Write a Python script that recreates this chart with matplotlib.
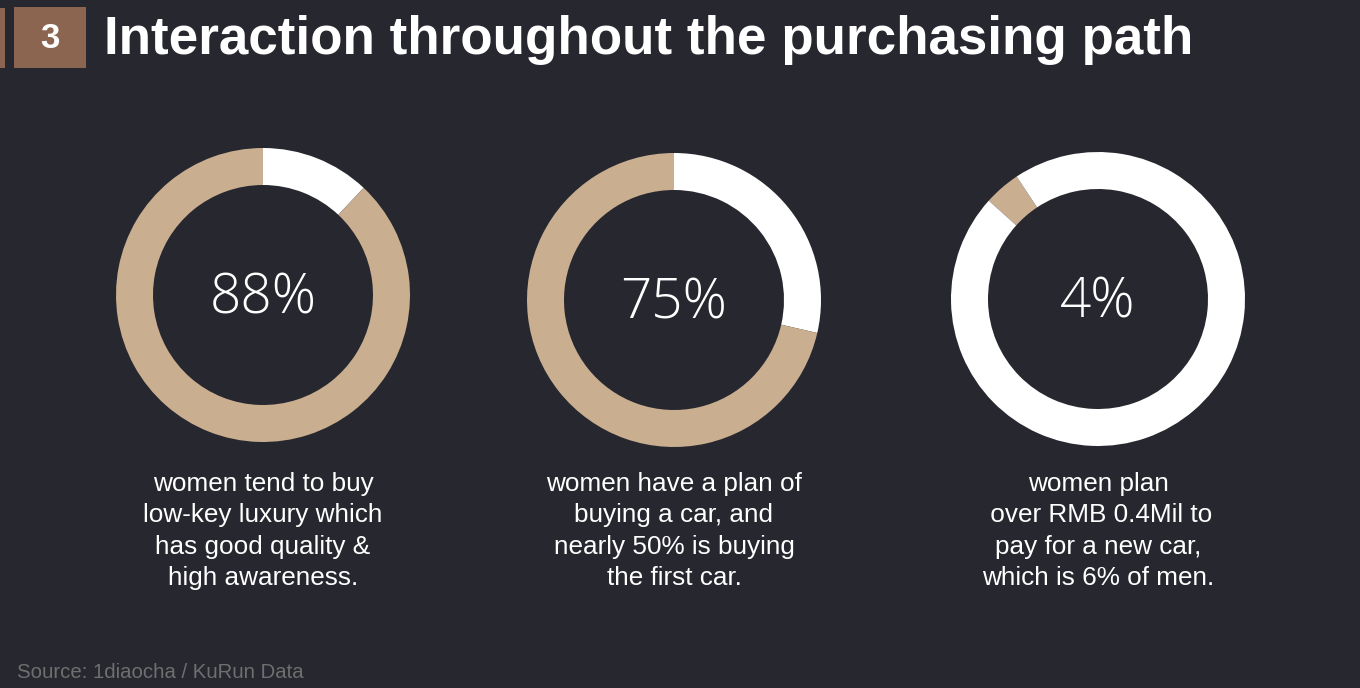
import matplotlib
matplotlib.use("Agg")
import matplotlib.pyplot as plt
from matplotlib.patches import Rectangle

# ---- data ----
title = "Interaction throughout the purchasing path"
section_number = "3"
percent_labels = ["88%", "75%", "4%"]
highlight_share = [88, 71.4, 4]        # tan arc share as drawn
rest_share = [12, 28.6, 96]            # white arc share as drawn
captions = [
    "women tend to buy\nlow-key luxury which\nhas good quality &\nhigh awareness.",
    "women have a plan of\nbuying a car, and\nnearly 50% is buying\nthe first car.",
    "women plan\n over RMB 0.4Mil to\npay for a new car,\nwhich is 6% of men.",
]
source = "Source: 1diaocha / KuRun Data"

# ---- style ----
BG = "#27272f"
TAN = "#c9ae90"
WHITE = "#ffffff"
BROWN = "#8c6550"
W, H = 1360, 688

fig = plt.figure(figsize=(W / 100, H / 100), dpi=100, facecolor=BG)

# header decorations
deco = fig.add_axes([0, 0, 1, 1], facecolor="none")
deco.set_xlim(0, W)
deco.set_ylim(H, 0)
deco.axis("off")
deco.add_patch(Rectangle((0, 8), 5, 60, color=BROWN, lw=0))
deco.add_patch(Rectangle((14, 7), 72, 61, color=BROWN, lw=0))
deco.text(50, 39, section_number, color="white", fontsize=25, fontweight="bold",
          family="Liberation Sans", ha="center", va="center")
deco.text(104, 40, title, color="white", fontsize=38.2, fontweight="bold",
          family="Liberation Sans", ha="left", va="center")
deco.text(17, 672, source, color="#6f6f6f", fontsize=14.7,
          family="Liberation Sans", ha="left", va="center")

centers = [(263, 295), (674, 300), (1098, 299)]
start_angles = [90, 90, 138]
orders = [("rest", "hl"), ("rest", "hl"), ("hl", "rest")]
R_PX = 147
BOX = 320

for i, (cx, cy) in enumerate(centers):
    ax = fig.add_axes([(cx - BOX / 2) / W, 1 - (cy + BOX / 2) / H, BOX / W, BOX / H])
    ax.set_facecolor("none")
    vals = {"hl": highlight_share[i], "rest": rest_share[i]}
    cols = {"hl": TAN, "rest": WHITE}
    o = orders[i]
    ax.pie([vals[k] for k in o], colors=[cols[k] for k in o], startangle=start_angles[i],
           counterclock=False, radius=1.0,
           wedgeprops=dict(width=37 / R_PX, linewidth=0))
    lim = (BOX / 2) / R_PX
    ax.set_xlim(-lim, lim)
    ax.set_ylim(-lim, lim)
    ax.set_aspect("equal")
    ax.axis("off")
    deco.text(cx, cy + 4, percent_labels[i], color="white", fontsize=39.5,
              family="Open Sans", fontweight="light", ha="center", va="center")
    deco.text(cx, 531, captions[i], color="white", fontsize=18.8,
              family="Liberation Sans", ha="center", va="center", linespacing=1.40,
              multialignment="center")

fig.savefig("out.png", dpi=100, facecolor=BG)
